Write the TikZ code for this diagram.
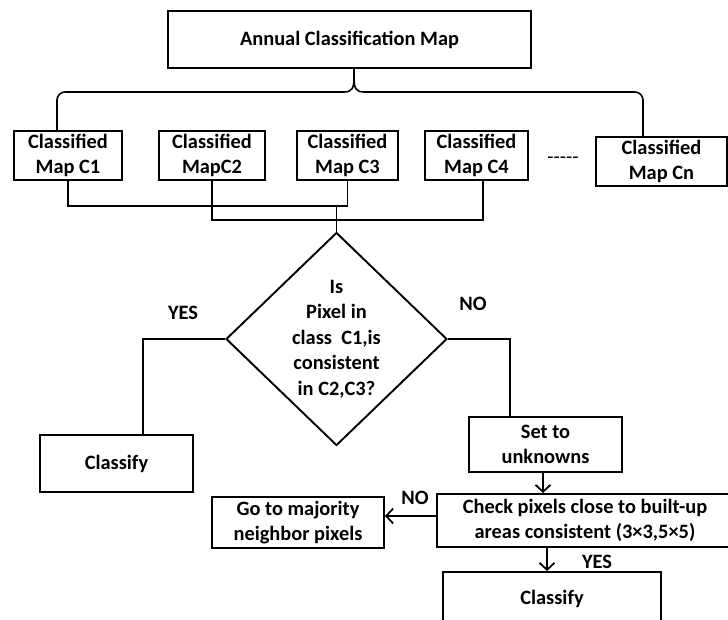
\documentclass[tikz,border=0pt]{standalone}
\usepackage{fontspec}
\setmainfont{Carlito}
\usepackage{tikz}
\usetikzlibrary{arrows.meta,calc,positioning,shapes.geometric}
\newcommand{\flowsize}{\fontsize{20.4}{25.5}\selectfont}
\tikzset{
  box/.style={draw=black,line width=1.9pt,fill=white,align=center,inner sep=0pt,font=\flowsize\bfseries},
  mapbox/.style={box,minimum height=49pt},
  decide/.style={diamond,draw=black,line width=1.9pt,fill=white,align=center,inner sep=-6pt,
    minimum width=221pt,minimum height=213pt,font=\flowsize\bfseries},
  link/.style={draw=black,line width=1.6pt},
  flow/.style={link,-{Straight Barb[length=7pt,width=15pt,line width=1.8pt]}},
  answer/.style={font=\flowsize\bfseries,inner sep=0pt}
}

\begin{document}
\begin{tikzpicture}[x=1pt,y=-1pt]
  \useasboundingbox (0,0) rectangle (728,619);
  % top and the maps
  \node[box,minimum width=363pt,minimum height=57pt] (annual) at (349.5,39.5){Annual Classification Map};
  \node[mapbox,minimum width=108pt] (c1) at (68,155.5){Classified\\Map C1};
  \node[mapbox,minimum width=106pt] (c2) at (212,155.5){Classified\\MapC2};
  \node[mapbox,minimum width=101pt] (c3) at (347.5,155.5){Classified\\Map C3};
  \node[mapbox,minimum width=103pt] (c4) at (476.5,155.5){Classified\\Map C4};
  \node[inner sep=0pt,font=\flowsize] (dots) at (563,160){{-}{-}{-}{-}{-}};
  \node[mapbox,minimum width=131pt] (cn) at (661.5,161.5){Classified\\Map Cn};
  % brace
  \coordinate (cusp) at (354,78);
  \draw[link] (annual.south -| cusp) -- (cusp) .. controls (354,88) and (352,92) .. (344,92)
    [rounded corners=8pt] -| (57,0 |- c1.north);
  \draw[link] (cusp) .. controls (354,88) and (356,92) .. (364,92)
    [rounded corners=8pt] -| (643,0 |- cn.north);
  % decision
  \node[decide] (dec) at (336.5,339){Is\\Pixel in\\class\ \ C1,is\\consistent\\in C2,C3?};
  \draw[link] (c1.south) -- ++(0,25) -| (c3.south);
  \draw[link] (c2.south) -- ++(0,39) -| (483,0 |- c4.south);
  \draw[link] (dec.north |- 0,205) -- (dec.north);
  \node[answer] (yes1) at (183,313){YES};
  \node[answer] (no1) at (473,304){NO};
  % outcomes
  \node[box,minimum width=153pt,minimum height=57pt] (cls1) at (116.5,463.5){Classify};
  \node[box,minimum width=153pt,minimum height=55pt] (setu) at (545.5,444.5){Set to\\unknowns};
  \node[box,minimum width=296pt,minimum height=53pt] (chk) at (585,520.5){Check pixels close to built-up\\areas consistent (3×3,5×5)};
  \node[box,minimum width=172pt,minimum height=51pt] (goto) at (298,522.5){Go to majority\\neighbor pixels};
  \node[box,minimum width=218pt,minimum height=54pt] (cls2) at (552,599){Classify};
  \node[answer] (no2) at (415,498){NO};
  \node[answer] (yes2) at (597,562){YES};
  \draw[link] (dec.west) -| (143,0 |- cls1.north);
  \draw[link] (dec.east) -| (510,0 |- setu.north);
  \draw[flow] (543,0 |- setu.south) -- (543,0 |- chk.north);
  \draw[flow] (chk.west |- 0,516) -- (goto.east |- 0,516);
  \draw[flow] (547,0 |- chk.south) -- (547,0 |- cls2.north);
\end{tikzpicture}
\end{document}
